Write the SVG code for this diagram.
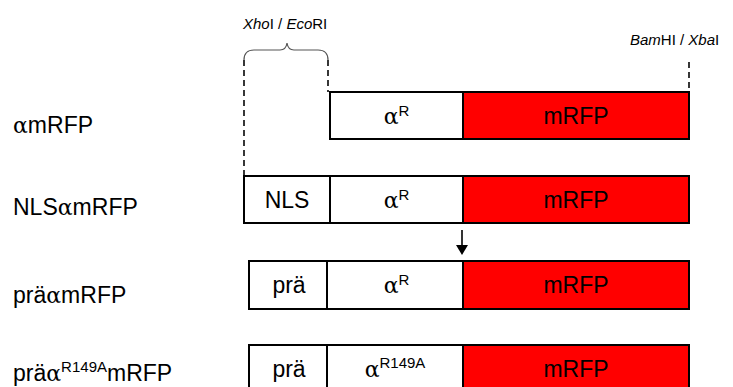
<svg xmlns="http://www.w3.org/2000/svg" width="733" height="387" viewBox="0 0 733 387">
<style>
.box{fill:#fff;stroke:#000;stroke-width:2}
.red{fill:#ff0000;stroke:#000;stroke-width:2}
.t{font-family:"Liberation Sans",Arial,sans-serif;font-size:23px;fill:#000}
.c{text-anchor:middle}
.g{font-family:"DejaVu Serif","Liberation Serif",serif;font-size:22px}
.sup{font-size:15px}
.site{font-family:"Liberation Sans",Arial,sans-serif;font-size:15px;fill:#000}
.i{font-style:italic}
.dash{fill:none;stroke:#222;stroke-width:1.8;stroke-dasharray:6,4}
.brace{fill:none;stroke:#555;stroke-width:1.2}
</style>

<g id="sites">
<text class="site" x="243" y="29"><tspan class="i">Xho</tspan>I / <tspan class="i">Eco</tspan>RI</text>
<text class="site" x="630" y="45"><tspan class="i">Bam</tspan>HI / <tspan class="i">Xba</tspan>I</text>
</g>

<g id="connectors">
<path class="brace" d="M244,60 Q244,50 254,50 L280,50 Q286,50 287,43 Q288,50 294,50 L318,50 Q328,50 328,60"/>
<line class="dash" x1="244" y1="60" x2="244" y2="176"/>
<line class="dash" x1="328" y1="60" x2="328" y2="92"/>
<line class="dash" x1="689" y1="62" x2="689" y2="92"/>
<line x1="462" y1="230" x2="462" y2="247" stroke="#000" stroke-width="1.6"/>
<path d="M456,245 L468,245 L462,255 Z" fill="#000"/>
</g>

<g id="row-amrfp">
<text class="t" x="13" y="133"><tspan class="g">α</tspan>mRFP</text>
<g id="amrfp-alpha"><rect class="box" x="330" y="92" width="133" height="47"/>
<text class="t c" x="396.5" y="124"><tspan class="g">α</tspan><tspan class="sup" dy="-8">R</tspan></text></g>
<g id="amrfp-mrfp"><rect class="red" x="463" y="92" width="226" height="47"/>
<text class="t c" x="576" y="124">mRFP</text></g>
</g>

<g id="row-nlsamrfp">
<text class="t" x="13" y="215">NLS<tspan class="g">α</tspan>mRFP</text>
<g id="nls-nls"><rect class="box" x="244" y="176" width="86" height="47"/>
<text class="t c" x="287" y="208">NLS</text></g>
<g id="nls-alpha"><rect class="box" x="330" y="176" width="133" height="47"/>
<text class="t c" x="396.5" y="208"><tspan class="g">α</tspan><tspan class="sup" dy="-8">R</tspan></text></g>
<g id="nls-mrfp"><rect class="red" x="463" y="176" width="226" height="47"/>
<text class="t c" x="576" y="208">mRFP</text></g>
</g>

<g id="row-praamrfp">
<text class="t" x="13" y="303">prä<tspan class="g">α</tspan>mRFP</text>
<g id="pra-pra"><rect class="box" x="249" y="261" width="78" height="48"/>
<text class="t c" x="289" y="293">prä</text></g>
<g id="pra-alpha"><rect class="box" x="327" y="261" width="136" height="48"/>
<text class="t c" x="396.5" y="293"><tspan class="g">α</tspan><tspan class="sup" dy="-8">R</tspan></text></g>
<g id="pra-mrfp"><rect class="red" x="463" y="261" width="226" height="48"/>
<text class="t c" x="576" y="293">mRFP</text></g>
</g>

<g id="row-pra-r149a">
<text class="t" x="13" y="381">prä<tspan class="g">α</tspan><tspan class="sup" dy="-9">R149A</tspan><tspan dy="9">mRFP</tspan></text>
<g id="r149a-pra"><rect class="box" x="249" y="345" width="78" height="48"/>
<text class="t c" x="289" y="377">prä</text></g>
<g id="r149a-alpha"><rect class="box" x="327" y="345" width="136" height="48"/>
<text class="t c" x="395" y="377"><tspan class="g">α</tspan><tspan class="sup" dy="-9">R149A</tspan></text></g>
<g id="r149a-mrfp"><rect class="red" x="463" y="345" width="226" height="48"/>
<text class="t c" x="576" y="377">mRFP</text></g>
</g>
</svg>
